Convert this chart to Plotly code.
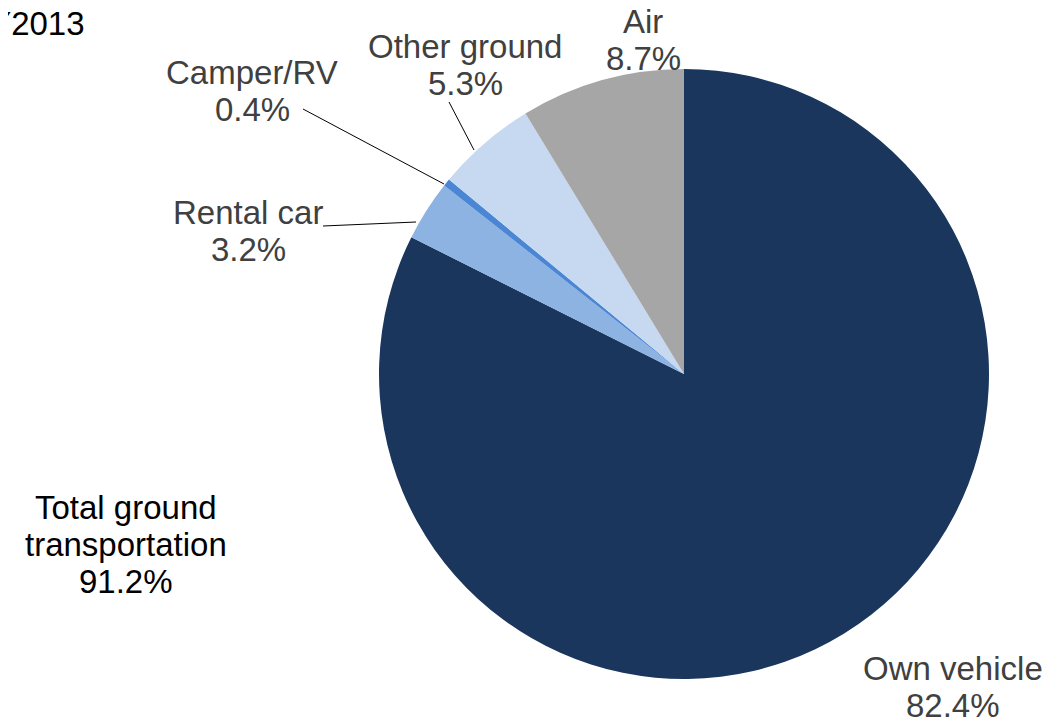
import plotly.graph_objects as go

W, H = 1057, 722
OFF = 8  # page body margin
FW, FH = W - 2 * OFF, H - OFF

labels = ["Own vehicle", "Rental car", "Camper/RV", "Other ground", "Air"]
values = [82.4, 3.2, 0.4, 5.3, 8.7]
colors = ["#1a365d", "#8db3e2", "#4a86d4", "#c6d9f1", "#a6a6a6"]
group_lines = ["Total ground", "transportation", "91.2%"]
subtitle = "FY2013"

def px(x, y):
    return (x - OFF) / FW, 1 - (y - OFF) / FH

cx, cy, r = 684, 374, 305
x0, y0 = px(cx - r, cy + r)
x1, y1 = px(cx + r, cy - r)

fig = go.Figure(go.Pie(
    labels=labels, values=values, sort=False, direction="clockwise", rotation=0,
    marker=dict(colors=colors, line=dict(width=0)),
    textinfo="none", hoverinfo="label+percent", showlegend=False,
    domain=dict(x=[x0, x1], y=[y0, y1]),
))

FAM = "Liberation Sans, Arial, sans-serif"
SIZE = 33
label_pos = {
    "Own vehicle": (953, 668),
    "Rental car": (248, 212),
    "Camper/RV": (252, 72),
    "Other ground": (465, 46),
    "Air": (643, 21),
}
LS = 37.5
anns = []
def add_line(text, x, y, color="#404040", xanchor="center"):
    px_, py_ = px(x, y)
    anns.append(dict(text=text, x=px_, y=py_, xref="paper", yref="paper", showarrow=False,
                     font=dict(family=FAM, size=SIZE, color=color),
                     xanchor=xanchor, yanchor="middle"))

for lab, v in zip(labels, values):
    x, y = label_pos[lab]
    add_line(lab, x, y)
    add_line(f"{v:.1f}%", x, y + LS)

for i, t in enumerate(group_lines):
    add_line(t, 126, 508 + i * 36.5, color="#000000")

add_line(subtitle, 87, 23, color="#000000", xanchor="right")

leaders = [((303, 109), (444, 184)), ((449, 102), (474, 150)), ((323, 226), (416, 222))]
shapes = []
for (a, b) in leaders:
    xa, ya = px(*a)
    xb, yb = px(*b)
    shapes.append(dict(type="line", x0=xa, y0=ya, x1=xb, y1=yb, xref="paper", yref="paper",
                       line=dict(color="#000000", width=1)))

fig.update_layout(width=FW, height=FH, margin=dict(l=0, r=0, t=0, b=0),
                  paper_bgcolor="white", plot_bgcolor="white",
                  annotations=anns, shapes=shapes)
fig.write_html("out.html")
